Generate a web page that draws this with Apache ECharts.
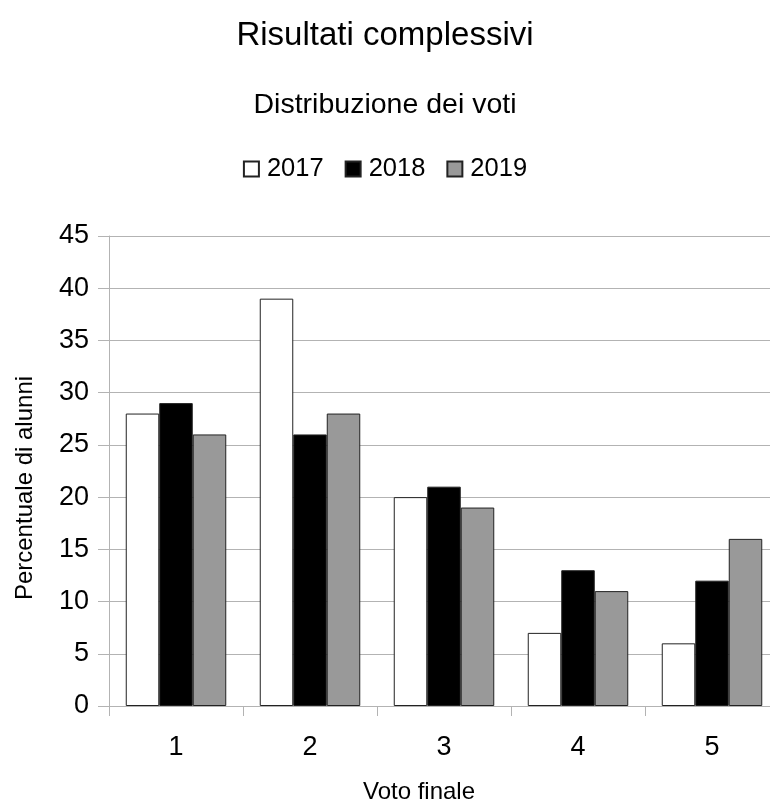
<!DOCTYPE html>
<html>
<head>
<meta charset="utf-8">
<script src="https://cdn.jsdelivr.net/npm/echarts@6/dist/echarts.min.js"></script>
<style>
  html, body { margin: 0; padding: 0; background: #fff; overflow: hidden; }
  #chart { width: 770px; height: 802px; }
</style>
</head>
<body>
<div id="chart"></div>
<script>
// Grade distribution per year
const categories = ['1', '2', '3', '4', '5'];
const years = ['2017', '2018', '2019'];
const values2017 = [28, 39, 20, 7, 6];
const values2018 = [29, 26, 21, 13, 12];
const values2019 = [26, 28, 19, 11, 16];
const yTicks = { min: 0, max: 45, interval: 5 };

const fills = ['#ffffff', '#000000', '#999999'];
const font = '"Liberation Sans", Arial, sans-serif';
const seriesValues = [values2017, values2018, values2019];

const chart = echarts.init(document.getElementById('chart'), null, { renderer: 'canvas' });

chart.setOption({
  animation: false,
  backgroundColor: '#ffffff',
  title: [
    {
      text: 'Risultati complessivi',
      left: 'center',
      top: 14,
      textStyle: { fontFamily: font, fontSize: 33, fontWeight: 'normal', color: '#000' }
    },
    {
      text: 'Distribuzione dei voti',
      left: 'center',
      top: 86,
      textStyle: { fontFamily: font, fontSize: 28.5, fontWeight: 'normal', color: '#000' }
    }
  ],
  legend: {
    data: years,
    left: 'center',
    top: 151,
    itemWidth: 15,
    itemHeight: 15,
    itemGap: 21,
    icon: 'rect',
    textStyle: { fontFamily: font, fontSize: 25.5, color: '#000', padding: [0, 0, 0, 3] }
  },
  // the plot runs a little past the right edge of the canvas
  grid: {
    left: 109, top: 236, right: -9, bottom: 96,
    containLabel: false,
    outerBoundsMode: 'none'
  },
  xAxis: {
    type: 'category',
    data: categories,
    axisLine: { lineStyle: { color: '#b3b3b3', width: 1 } },
    axisTick: { show: true, length: 10, lineStyle: { color: '#b3b3b3' } },
    axisLabel: { fontFamily: font, fontSize: 27, color: '#000', margin: 28 },
    splitLine: { show: false }
  },
  yAxis: {
    type: 'value',
    min: yTicks.min,
    max: yTicks.max,
    interval: yTicks.interval,
    axisLine: { show: true, lineStyle: { color: '#b3b3b3', width: 1 } },
    axisTick: { show: true, length: 11, lineStyle: { color: '#b3b3b3' } },
    axisLabel: { fontFamily: font, fontSize: 27, color: '#000', margin: 20 },
    splitLine: { show: true, lineStyle: { color: '#b3b3b3', width: 1 } }
  },
  graphic: [
    {
      type: 'text',
      x: 25,
      y: 488,
      rotation: Math.PI / 2,
      style: {
        text: 'Percentuale di alunni',
        font: '24px ' + font,
        fill: '#000',
        textAlign: 'center',
        textVerticalAlign: 'middle'
      }
    },
    {
      type: 'text',
      x: 419,
      y: 792,
      style: {
        text: 'Voto finale',
        font: '24px ' + font,
        fill: '#000',
        textAlign: 'center',
        textVerticalAlign: 'middle'
      }
    }
  ],
  series: years.map((y, i) => ({
    name: y,
    type: 'bar',
    data: seriesValues[i],
    barGap: '0%',
    barCategoryGap: '25%',
    itemStyle: { color: fills[i], borderColor: '#222222', borderWidth: 1 }
  }))
});
</script>
</body>
</html>
